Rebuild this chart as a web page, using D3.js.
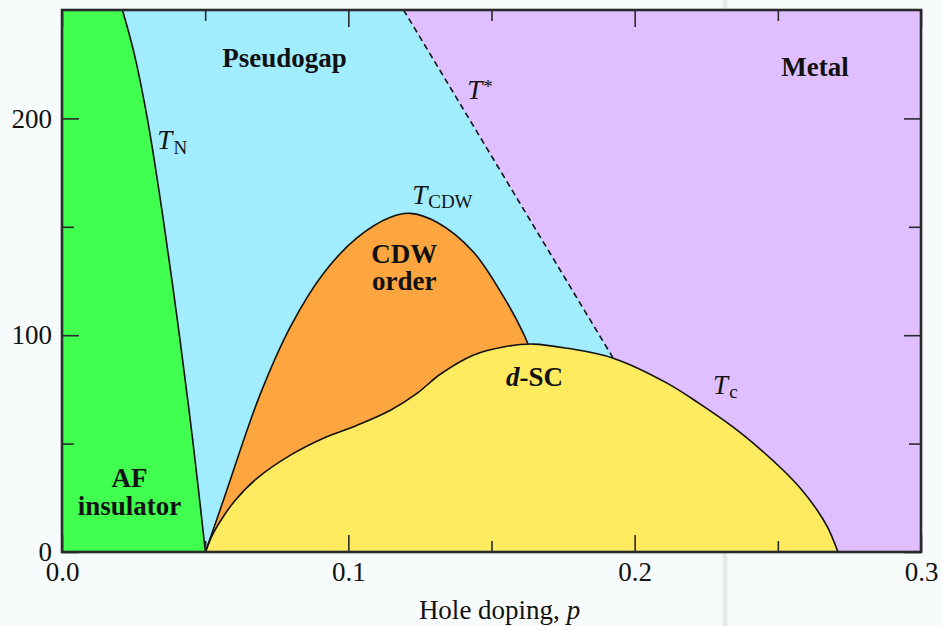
<!DOCTYPE html>
<html>
<head>
<meta charset="utf-8">
<script src="https://cdn.jsdelivr.net/npm/d3@7"></script>
<style>
  html, body { margin: 0; padding: 0; background: #f7fbfc; }
  svg { display: block; }
  text { font-family: "Liberation Serif", "Times New Roman", serif; fill: #111; }
</style>
</head>
<body>
<script>
// ---- Axis ticks ----
const xMajorTicks = [0.0, 0.1, 0.2, 0.3];
const xMinorTicks = [0.05, 0.15, 0.25];
const yMajorTicks = [0, 100, 200];
const yMinorTicks = [50, 150];
const xTickLabels = ["0.0", "0.1", "0.2", "0.3"];
const yTickLabels = ["0", "100", "200"];

// ---- Phase boundaries, as [hole doping p, temperature T] ----
// Néel temperature T_N (antiferromagnetic insulator edge)
const neelBoundary = [
  [0.0211, 250], [0.0252, 230], [0.0298, 200], [0.0352, 155],
  [0.0410, 100], [0.0458, 50], [0.0501, 0]
];
// Pseudogap crossover T* (ends on the superconducting dome)
const pseudogapBoundary = [[0.1193, 250], [0.1925, 89.4]];
// Charge-density-wave dome T_CDW
const cdwBoundary = [
  [0.0501, 0], [0.0564, 24], [0.0690, 72], [0.0798, 104], [0.0913, 128.5],
  [0.1031, 145], [0.1147, 154.4], [0.1216, 156.2], [0.1311, 152],
  [0.1436, 138.5], [0.1541, 118], [0.1611, 101], [0.1628, 95.7]
];
// d-wave superconducting dome T_c
const scDome = [
  [0.0501, 0], [0.0525, 7.8], [0.0560, 15.7], [0.0606, 24.0], [0.0682, 34.1],
  [0.0798, 44.7], [0.0913, 52.5], [0.1031, 58.5], [0.1147, 65.4],
  [0.1241, 73.3], [0.1321, 82.0], [0.1436, 90.8], [0.1555, 94.9],
  [0.1646, 95.9], [0.1764, 94.0], [0.1925, 89.4], [0.2113, 77.9],
  [0.2229, 68.2], [0.2344, 57.6], [0.2438, 47.5], [0.2518, 37.8],
  [0.2578, 29.5], [0.2637, 19.4], [0.2675, 11.1], [0.2710, 0]
];

// ---- Layout ----
const W = 942, H = 626;
const margin = { left: 62, right: 21, top: 10, bottom: 74 };
const x = d3.scaleLinear().domain([0, 0.3]).range([margin.left, W - margin.right]);
const y = d3.scaleLinear().domain([0, 250]).range([H - margin.bottom, margin.top]);

const colors = {
  metal: "#dfbfff",
  pseudogap: "#a1ecfd",
  af: "#40ff4f",
  cdw: "#fda640",
  sc: "#feeb60",
  line: "#111",
  axis: "#2a2a2a"
};

const smooth = d3.curveCatmullRom.alpha(0.5);

const svg = d3.select("body").append("svg")
  .attr("width", W).attr("height", H);

// faint vertical sheen in the page background
const defs = svg.append("defs");
const sheen = defs.append("linearGradient").attr("id", "sheen");
sheen.append("stop").attr("offset", "0%").attr("stop-color", "#f7fbfc");
sheen.append("stop").attr("offset", "50%").attr("stop-color", "#dfe4e6");
sheen.append("stop").attr("offset", "100%").attr("stop-color", "#f7fbfc");
svg.append("rect").attr("x", 721).attr("y", 0).attr("width", 8).attr("height", H)
  .attr("fill", "url(#sheen)");

defs.append("clipPath").attr("id", "plotClip")
  .append("rect")
  .attr("x", x(0)).attr("y", y(250))
  .attr("width", x(0.3) - x(0)).attr("height", y(0) - y(250));

const plot = svg.append("g").attr("clip-path", "url(#plotClip)");

// Metal: whole plot background
plot.append("rect")
  .attr("x", x(0)).attr("y", y(250))
  .attr("width", x(0.3) - x(0)).attr("height", y(0) - y(250))
  .attr("fill", colors.metal);

// Pseudogap: everything left of the T* line (extended to T = 0, hidden under the domes)
const [ps0, ps1] = pseudogapBoundary;
const psSlope = (ps1[1] - ps0[1]) / (ps1[0] - ps0[0]);
const psFoot = ps1[0] - ps1[1] / psSlope;
plot.append("path")
  .attr("d", d3.line()([
    [x(0), y(250)], [x(ps0[0]), y(ps0[1])], [x(psFoot), y(0)], [x(0), y(0)]
  ]) + "Z")
  .attr("fill", colors.pseudogap);

// AF insulator: between p = 0 and T_N
plot.append("path")
  .datum(neelBoundary)
  .attr("d", d3.area()
    .curve(smooth)
    .y(d => y(d[1]))
    .x0(x(0))
    .x1(d => x(d[0])))
  .attr("fill", colors.af);

// CDW dome
const domeArea = d3.area()
  .curve(smooth)
  .x(d => x(d[0])).y0(y(0)).y1(d => y(d[1]));
plot.append("path").datum(cdwBoundary).attr("d", domeArea).attr("fill", colors.cdw);

// d-SC dome
plot.append("path").datum(scDome).attr("d", domeArea).attr("fill", colors.sc);

// Boundary lines
const boundaryLine = d3.line().curve(smooth).x(d => x(d[0])).y(d => y(d[1]));
[neelBoundary, cdwBoundary, scDome].forEach(b => {
  plot.append("path").datum(b).attr("d", boundaryLine)
    .attr("fill", "none").attr("stroke", colors.line).attr("stroke-width", 1.6);
});
plot.append("path").datum(pseudogapBoundary).attr("d", d3.line().x(d => x(d[0])).y(d => y(d[1])))
  .attr("fill", "none").attr("stroke", colors.line).attr("stroke-width", 1.6)
  .attr("stroke-dasharray", "6,4");

// ---- Axes (ticks point inward on all four sides) ----
function styleAxis(g) {
  g.select(".domain").remove();
  g.selectAll(".tick line").attr("stroke", colors.axis).attr("stroke-width", 1.6);
  g.attr("font-family", null).attr("font-size", null);
  g.selectAll(".tick text")
    .style("font-family", "'Liberation Serif', 'Times New Roman', serif")
    .style("font-size", "27px").attr("fill", "#111");
}

const bottomY = y(0), topY = y(250), leftX = x(0), rightX = x(0.3);

svg.append("g").attr("transform", `translate(0,${bottomY})`)
  .call(d3.axisBottom(x).tickValues(xMajorTicks).tickSize(-17).tickPadding(10)
    .tickFormat((d, i) => xTickLabels[i]))
  .call(styleAxis);
svg.append("g").attr("transform", `translate(0,${bottomY})`)
  .call(d3.axisBottom(x).tickValues(xMinorTicks).tickSize(-11).tickFormat(""))
  .call(styleAxis);
svg.append("g").attr("transform", `translate(0,${topY})`)
  .call(d3.axisTop(x).tickValues(xMajorTicks).tickSize(-17).tickFormat(""))
  .call(styleAxis);
svg.append("g").attr("transform", `translate(0,${topY})`)
  .call(d3.axisTop(x).tickValues(xMinorTicks).tickSize(-11).tickFormat(""))
  .call(styleAxis);

svg.append("g").attr("transform", `translate(${leftX},0)`)
  .call(d3.axisLeft(y).tickValues(yMajorTicks).tickSize(-17).tickPadding(10)
    .tickFormat((d, i) => yTickLabels[i]))
  .call(styleAxis);
svg.append("g").attr("transform", `translate(${leftX},0)`)
  .call(d3.axisLeft(y).tickValues(yMinorTicks).tickSize(-12).tickFormat(""))
  .call(styleAxis);
svg.append("g").attr("transform", `translate(${rightX},0)`)
  .call(d3.axisRight(y).tickValues(yMajorTicks).tickSize(-17).tickFormat(""))
  .call(styleAxis);
svg.append("g").attr("transform", `translate(${rightX},0)`)
  .call(d3.axisRight(y).tickValues(yMinorTicks).tickSize(-12).tickFormat(""))
  .call(styleAxis);

// Frame
svg.append("rect")
  .attr("x", leftX).attr("y", topY)
  .attr("width", rightX - leftX).attr("height", bottomY - topY)
  .attr("fill", "none").attr("stroke", colors.axis).attr("stroke-width", 2.6);

// Axis title
const xTitle = svg.append("text")
  .attr("x", (leftX + rightX) / 2 + 8).attr("y", 619)
  .attr("text-anchor", "middle").attr("font-size", 27);
xTitle.append("tspan").text("Hole doping, ");
xTitle.append("tspan").attr("font-style", "italic").text("p");

// ---- Region labels ----
function boldLabel(lines, p, T, lineGap) {
  const t = svg.append("text")
    .attr("text-anchor", "middle").attr("font-size", 27).attr("font-weight", "bold");
  lines.forEach((s, i) => {
    t.append("tspan").attr("x", x(p)).attr("y", y(T) + i * lineGap).text(s);
  });
  return t;
}
boldLabel(["Pseudogap"], 0.0777, 223.5, 0);
boldLabel(["Metal"], 0.263, 219.4, 0);
boldLabel(["CDW", "order"], 0.1195, 133.2, 27);
boldLabel(["AF", "insulator"], 0.0236, 30, 28);

const dsc = svg.append("text")
  .attr("x", x(0.165)).attr("y", y(76.5))
  .attr("text-anchor", "middle").attr("font-size", 27).attr("font-weight", "bold");
dsc.append("tspan").attr("font-style", "italic").text("d");
dsc.append("tspan").text("-SC");

// ---- Temperature-scale labels ----
function tempLabel(sub, p, T, shift, sup) {
  const t = svg.append("text").attr("x", x(p)).attr("y", y(T)).attr("font-size", 27);
  t.append("tspan").attr("font-style", "italic").text("T");
  if (sub) t.append("tspan").attr("font-size", 19).attr("dx", 1).attr("dy", shift).text(sub);
  if (sup) t.append("tspan").attr("font-size", 19).attr("dx", 1).attr("dy", shift).text(sup);
  return t;
}
tempLabel("N", 0.0333, 186, 5);
tempLabel(null, 0.1415, 208.8, -6, "*");
tempLabel("CDW", 0.1223, 160.4, 4);
tempLabel("c", 0.2274, 72.8, 4);
</script>
</body>
</html>
